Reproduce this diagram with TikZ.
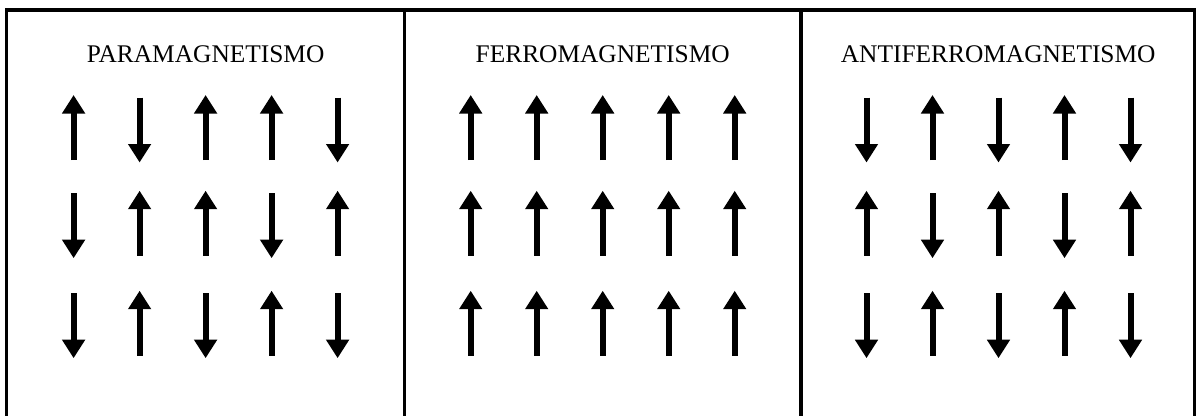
\documentclass[tikz,border=0pt]{standalone}
\usepackage{fontspec}
\setmainfont{Liberation Serif}
\usetikzlibrary{arrows.meta}
\begin{document}
\begin{tikzpicture}[x=1pt,y=-1pt,
  frame/.style={line width=3.4pt,line join=miter},
  spin/.style={line width=6pt,-{Triangle[width=22pt,length=18.5pt]}},
  title/.style={anchor=base,inner sep=0pt,font=\fontsize{25.4pt}{30pt}\selectfont}]
\useasboundingbox (0,0) rectangle (1198,415);
% frame
\draw[frame] (6.7,420) -- (6.7,10) -- (1194.5,10) -- (1194.5,420);
\draw[frame] (404.5,10) -- (404.5,420);
\draw[frame] (801,10) -- (801,420);
% titles
\node[title] (tp) at (205.6,62.3) {PARAMAGNETISMO};
\node[title] (tf) at (602.7,62.3) {FERROMAGNETISMO};
\node[title] (ta) at (998.2,62.3) {ANTIFERROMAGNETISMO};
% spins: up=1, down=0
\newcommand{\spinrow}[3]{% #1 first x, #2 row top, #3 list
  \foreach \s [count=\i from 0] in {#3} {
    \pgfmathsetmacro{\xx}{#1+66*\i}
    \ifnum\s=1
      \draw[spin] (\xx,#2+65) -- (\xx,#2);
    \else
      \draw[spin] (\xx,#2+2.5) -- (\xx,#2+67.5);
    \fi
  }}
% paramagnetism
\spinrow{73.6}{95}{1,0,1,1,0}
\spinrow{73.6}{190.7}{0,1,1,0,1}
\spinrow{73.6}{290.7}{0,1,0,1,0}
% ferromagnetism
\spinrow{470.7}{95}{1,1,1,1,1}
\spinrow{470.7}{190.7}{1,1,1,1,1}
\spinrow{470.7}{290.7}{1,1,1,1,1}
% antiferromagnetism
\spinrow{866.5}{95}{0,1,0,1,0}
\spinrow{866.5}{190.7}{1,0,1,0,1}
\spinrow{866.5}{290.7}{0,1,0,1,0}
\end{tikzpicture}
\end{document}
